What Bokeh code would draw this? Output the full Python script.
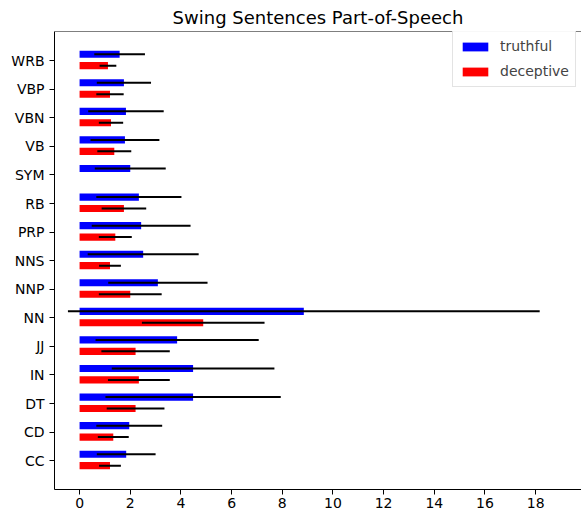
import numpy as np
from bokeh.plotting import figure
from bokeh.models import ColumnDataSource, Range1d, FixedTicker, Legend, LegendItem, Span
from bokeh.embed import file_html
from bokeh.resources import INLINE

cats = ["CC", "CD", "DT", "IN", "JJ", "NN", "NNP", "NNS", "PRP", "RB", "SYM", "VB", "VBN", "VBP", "WRB"]
truthful = [1.84, 1.96, 4.48, 4.48, 3.85, 8.85, 3.09, 2.51, 2.43, 2.34, 2.00, 1.79, 1.83, 1.75, 1.58]
truthful_err = [1.16, 1.30, 3.46, 3.21, 3.22, 9.31, 1.96, 2.19, 1.95, 1.68, 1.40, 1.36, 1.49, 1.07, 1.00]
deceptive = [1.20, 1.33, 2.21, 2.34, 2.21, 4.88, 2.00, 1.20, 1.41, 1.75, 0.0, 1.37, 1.24, 1.20, 1.12]
deceptive_err = [0.43, 0.61, 1.14, 1.22, 1.35, 2.42, 1.24, 0.43, 0.65, 0.88, 0.0, 0.67, 0.48, 0.54, 0.33]
x_ticks = [0, 2, 4, 6, 8, 10, 12, 14, 16, 18]

pos = np.arange(len(cats))
t = np.array(truthful)
te = np.array(truthful_err)
d = np.array(deceptive)
de = np.array(deceptive_err)

src = ColumnDataSource(dict(
    ty=pos + 0.225, dy=pos - 0.175,
    t=t, d=d,
    tlo=t - te, thi=t + te,
    dlo=d - de, dhi=d + de,
))

FONT = "DejaVu Sans"

p = figure(width=581, height=515, output_backend="svg", toolbar_location=None,
           x_range=Range1d(-0.99, 19.81), y_range=Range1d(-1.01, 15.02),
           title="Swing Sentences Part-of-Speech",
           min_border_left=54, min_border_right=0, min_border_top=30, min_border_bottom=26)

p.grid.visible = False
p.outline_line_color = None
p.background_fill_color = "white"
p.border_fill_color = "white"

p.title.align = "center"
p.title.text_font = FONT
p.title.text_font_style = "normal"
p.title.text_font_size = "18px"
p.title.text_color = "black"
p.title.standoff = 8

rb = p.hbar(y="ty", left=0, right="t", height=0.25, source=src, fill_color="#0000ff", line_color=None)
rr = p.hbar(y="dy", left=0, right="d", height=0.25, source=src, fill_color="#ff0000", line_color=None)
p.segment(x0="tlo", x1="thi", y0="ty", y1="ty", source=src, line_color="black", line_width=2)
p.segment(x0="dlo", x1="dhi", y0="dy", y1="dy", source=src, line_color="black", line_width=2)

p.add_layout(Span(location=15.02, dimension="width", line_color="black", line_width=1))

for ax in (p.xaxis[0], p.yaxis[0]):
    ax.axis_line_color = "black"
    ax.axis_line_width = 1
    ax.major_tick_out = 5
    ax.major_tick_in = 0
    ax.minor_tick_out = 0
    ax.minor_tick_in = 0
    ax.major_label_text_font = FONT
    ax.major_label_text_font_size = "14px"
    ax.major_label_text_color = "black"
    ax.major_tick_line_color = "black"

p.xaxis[0].ticker = FixedTicker(ticks=x_ticks)
p.xaxis[0].major_label_standoff = 3
p.yaxis[0].ticker = FixedTicker(ticks=list(pos))
p.yaxis[0].major_label_overrides = {int(i): c for i, c in zip(pos, cats)}
p.yaxis[0].major_label_standoff = 5

legend = Legend(items=[LegendItem(label="truthful", renderers=[rb]),
                       LegendItem(label="deceptive", renderers=[rr])],
                location=(398, 402), label_text_font=FONT, label_text_font_size="14px",
                glyph_width=32, glyph_height=11, label_standoff=9, padding=6, spacing=7,
                label_height=18, margin=0, border_line_color="#c8c8c8", border_line_width=1)
p.add_layout(legend)

open("out.html", "w").write(file_html(p, INLINE))
